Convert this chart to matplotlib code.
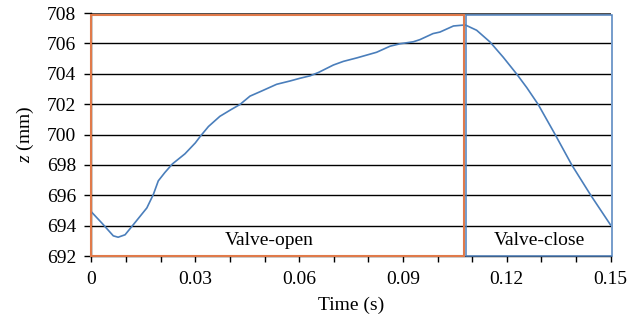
import matplotlib
matplotlib.use("Agg")
import matplotlib.pyplot as plt
from matplotlib.patches import Rectangle
from matplotlib.ticker import MultipleLocator

plt.rcParams['font.family'] = ['Liberation Serif', 'DejaVu Serif']
plt.rcParams['mathtext.fontset'] = 'custom'
plt.rcParams['mathtext.rm'] = 'Liberation Serif'
plt.rcParams['mathtext.it'] = 'Liberation Serif:italic'

# curve
time_s = [0.0, 0.0030, 0.0063, 0.0077, 0.0097, 0.0121, 0.0160, 0.0179, 0.0193,
          0.0212, 0.0234, 0.0270, 0.0300, 0.0314, 0.0338, 0.0371, 0.0403, 0.0429,
          0.0458, 0.0492, 0.0535, 0.0574, 0.0603, 0.0632, 0.0656, 0.0699, 0.0728,
          0.0767, 0.0824, 0.0863, 0.0892, 0.0930, 0.0949, 0.0987, 0.1007, 0.1046,
          0.1080, 0.1113, 0.1152, 0.1190, 0.1229, 0.1258, 0.1291, 0.1340, 0.1388,
          0.1443, 0.1500]
z_mm = [694.9, 694.17, 693.33, 693.24, 693.4, 694.07, 695.17, 696.07, 696.95,
        697.5, 698.07, 698.73, 699.45, 699.87, 700.53, 701.2, 701.64, 701.98,
        702.53, 702.87, 703.31, 703.53, 703.71, 703.87, 704.09, 704.58, 704.82,
        705.05, 705.42, 705.82, 705.98, 706.11, 706.25, 706.65, 706.75, 707.15,
        707.22, 706.87, 706.09, 705.09, 703.98, 703.09, 701.98, 700.0, 698.0,
        696.0, 694.05]

t_switch = 0.1077
y_ticks = [692, 694, 696, 698, 700, 702, 704, 706, 708]

fig = plt.figure(figsize=(6.43, 3.27), dpi=100)
ax = fig.add_axes([0.1423, 0.217, 0.8072, 0.743])

for yv in y_ticks[1:]:
    c = '#505050' if yv == 708 else 'black'
    lw = 1.8 if yv == 708 else 1.0
    ax.axhline(yv, color=c, lw=lw, zorder=1)

ax.plot(time_s, z_mm, color='#4A7EBB', lw=1.2, zorder=3)

ax.add_patch(Rectangle((0, 692), t_switch, 15.87, fill=False,
                       edgecolor='#E07A4A', lw=1.5, zorder=4, clip_on=False))
ax.add_patch(Rectangle((0.1081, 692), 0.1505 - 0.1081, 15.87,
                       fill=False, edgecolor='#4F81BD', lw=1.1, zorder=4, clip_on=False))

ax.text(0.0515, 693.0, 'Valve-open', ha='center', va='center', fontsize=14)
ax.text(0.1295, 693.0, 'Valve-close', ha='center', va='center', fontsize=14)

ax.set_xlim(0, 0.15)
ax.set_ylim(692, 708)
ax.set_yticks(y_ticks)
ax.set_xticks([0, 0.03, 0.06, 0.09, 0.12, 0.15])
ax.set_xticklabels(['0', '0.03', '0.06', '0.09', '0.12', '0.15'])
ax.xaxis.set_minor_locator(MultipleLocator(0.01))
ax.tick_params(axis='both', labelsize=14, direction='out', length=5, width=1)
ax.tick_params(axis='x', which='minor', length=4, width=1)
ax.tick_params(axis='x', which='major', length=4, pad=7)
ax.tick_params(axis='y', pad=6)

for s in ['top', 'right']:
    ax.spines[s].set_visible(False)
ax.spines['left'].set_linewidth(1.0)
ax.spines['bottom'].set_linewidth(1.0)

ax.set_xlabel('Time (s)', fontsize=14, labelpad=6)
ax.set_ylabel('$z$ (mm)', fontsize=14, labelpad=8)

fig.savefig('out.png', dpi=100)
